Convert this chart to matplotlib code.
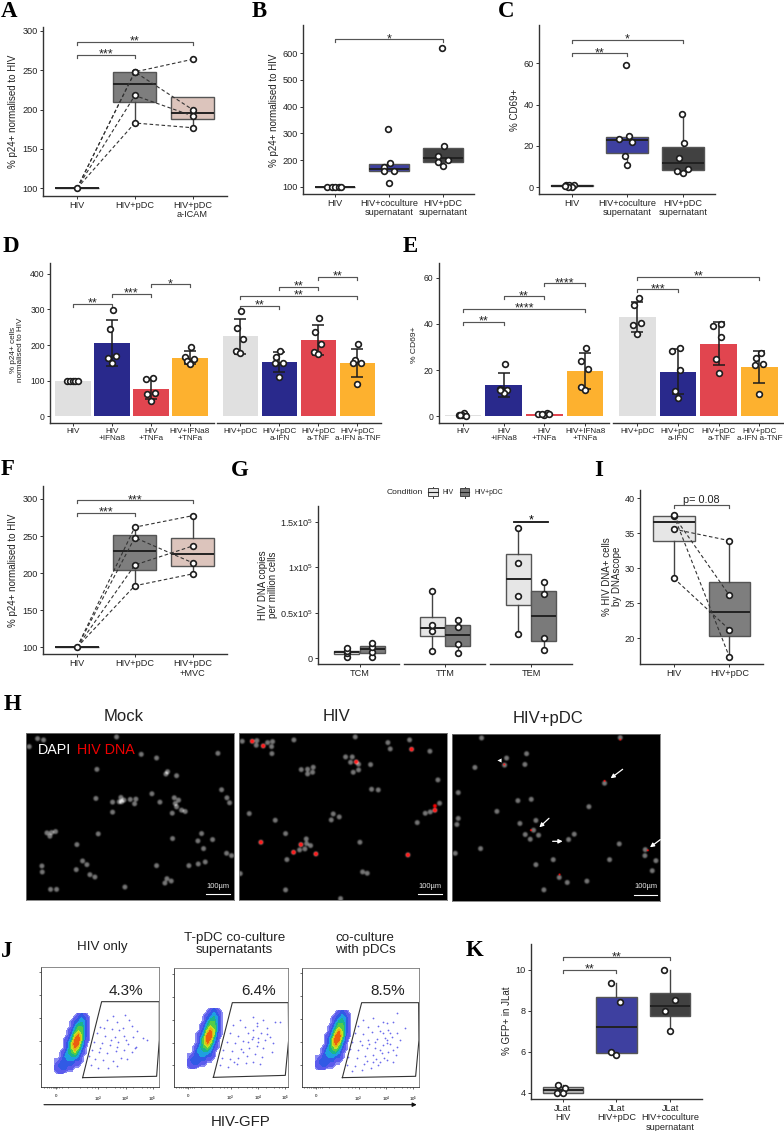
import numpy as np
import matplotlib
matplotlib.use("Agg")
import matplotlib.pyplot as plt
from matplotlib.colors import LinearSegmentedColormap
from matplotlib.patches import Rectangle

plt.rcParams['font.family'] = ['Liberation Sans', 'DejaVu Sans']
W, H = 784, 1131
fig = plt.figure(figsize=(W/100, H/100), dpi=100)

# colours
GREY = "#E0E0E0"; NAVY = "#29298C"; RED = "#E1454F"; ORANGE = "#FDB12F"
BOX_GREY = "#7E7E7E"; BOX_PINK = "#DCC4BC"; BOX_BLUE = "#3E40A0"; BOX_DARK = "#414141"
BAR_COLS = [GREY, NAVY, RED, ORANGE]
FLOW = LinearSegmentedColormap.from_list("flow", ["#9a9af5", "#3a3ae8", "#1ea0e0", "#18c060", "#c8e020", "#f0a010", "#e82010"])

# A
a_labels = ["HIV", "HIV+pDC", "HIV+pDC\na-ICAM"]
a_hiv = [100, 100, 100, 100]
a_pdc = [248, 248, 218, 183]
a_icam = [264, 200, 192, 177]

# B
b_labels = ["HIV", "HIV+coculture\nsupernatant", "HIV+pDC\nsupernatant"]
b_hiv = [100, 100, 100, 100, 100]
b_coc = [318, 190, 172, 160, 160, 115]
b_pdc = [621, 254, 216, 200, 192, 179]
b_jit = [[-.15, -.07, 0, .06, .11], [-.02, .02, -.09, -.1, .1, 0], [-.02, .03, -.09, .1, -.09, 0]]

# C
c_labels = ["HIV", "HIV+coculture\nsupernatant", "HIV+pDC\nsupernatant"]
c_hiv = [.9, .9, .9, .3, .3, .8]
c_coc = [59, 24.7, 23.4, 22.1, 15, 10.8]
c_pdc = [35.5, 21.3, 14.2, 8.9, 7.9, 6.9]
c_jit = [[-.1, -.04, .05, 0, -.06, -.12], [-.02, .04, -.15, .08, -.04, 0], [-.02, .02, -.07, .1, -.1, 0]]

# D
d_labels1 = ["HIV", "HIV\n+IFNa8", "HIV\n+TNFa", "HIV+IFNa8\n+TNFa"]
d_labels2 = ["HIV+pDC", "HIV+pDC\na-IFN", "HIV+pDC\na-TNF", "HIV+pDC\na-IFN a-TNF"]
d_f1 = [[100, 100, 100, 100, 100], [298, 246, 164, 169, 150], [104, 106.5, 63, 64, 43], [193, 166, 162, 156, 146]]
d_f2 = [[295, 248, 218, 182, 178], [184, 165, 150, 150, 109], [276, 236, 204, 180, 175], [202, 159, 149, 149, 91]]
d_j1 = [[-.15, -.07, 0, .05, .12], [.02, -.06, -.09, .09, 0], [-.14, .05, -.11, .1, 0], [.03, -.14, .09, -.08, 0]]
d_j2 = [[.03, -.09, .06, -.1, 0], [.02, -.08, -.1, .1, 0], [.03, -.08, .07, -.1, 0], [.03, -.07, -.11, .1, 0]]

# E
e_f1 = [[.4, 1.3, .4, .3, .6], [22.6, 11.7, 11.5, 10, 11.4], [.9, 1.3, .4, 1, 1], [29.4, 24.1, 20.3, 12.5, 11.4]]
e_f2 = [[51.4, 48, 40.4, 39.7, 35.6], [29.7, 28.1, 20, 10.8, 7.9], [39, 40.1, 34.5, 25, 18.8], [27.3, 25.1, 22.2, 22.6, 9.5]]
e_j1 = [[-.11, .02, -.03, .08, -.07], [.03, -.08, .08, 0, -.1], [-.15, .06, -.01, .11, -.06], [.03, -.11, .07, -.1, 0]]
e_j2 = [[.03, -.08, .1, -.1, 0], [.06, -.14, .06, -.07, 0], [-.15, .05, .06, -.06, 0], [.03, -.08, -.1, .1, 0]]

# F
f_labels = ["HIV", "HIV+pDC", "HIV+pDC\n+MVC"]
f_hiv = [100, 100, 100, 100]
f_pdc = [262, 248, 211, 183]
f_mvc = [277.5, 214, 236.6, 199]

# G
g_groups = ["TCM", "TTM", "TEM"]
g_hiv = [[1460, 5600, 7500, 10800], [8415, 30366, 36220, 73900], [26700, 68780, 105000, 143050]]
g_pdc = [[1830, 7317, 12440, 16830], [5850, 16100, 34390, 41700], [8780, 22300, 70600, 83780]]
g_ticks = [0, 50000, 100000, 150000]
g_ticklabels = ["0", r"$\mathregular{0.5x10^5}$", r"$\mathregular{1x10^5}$", r"$\mathregular{1.5x10^5}$"]

# I
i_labels = ["HIV", "HIV+pDC"]
i_hiv = [35.6, 37.5, 37.6, 28.6]
i_pdc = [33.95, 26.14, 17.33, 21.24]

# K
k_labels = ["JLat\nHIV", "JLat\nHIV+pDC", "JLat\nHIV+coculture\nsupernatant"]
k_hiv = [4.39, 4.24, 4.0, 4.0]
k_pdc = [9.37, 8.41, 6.0, 5.82]
k_coc = [10, 8.5, 8, 7]
k_jit = [[-.08, .05, -.1, .01], [-.1, .06, -.1, 0], [-.11, .09, -.09, 0]]

# H: nuclei
h_mock = [(88,170),(113,146),(131,150),(350,141),(424,193),(470,204),(654,190),(291,238),(503,245),(498,252),(530,257),
          (665,299),(681,323),(689,338),(288,325),(338,336),(358,335),(363,322),(365,335),(372,330),(391,328),(408,327),
          (404,341),(456,311),(480,336),(523,323),(536,330),(526,340),(530,350),(545,360),(556,364),(517,369),(338,366),
          (141,428),(155,427),(167,424),(150,438),(295,431),(518,445),(605,430),(594,452),(638,448),(611,475),(231,463),
          (680,489),(695,496),(248,512),(261,523),(126,527),(127,545),(229,538),(270,553),(285,560),(470,526),(567,526),
          (595,521),(616,515),(501,565),(514,572),(495,578),(375,590),(152,597),(170,597)]
h_hiv = [(36,154),(80,152),(78,166),(112,158),(127,155),(124,170),(125,191),(191,150),(375,141),(473,158),(480,177),
         (538,150),(599,184),(346,201),(366,201),(361,217),(385,223),(369,247),(385,240),(421,224),(213,239),(232,238),
         (249,232),(247,247),(232,252),(424,298),(444,300),(623,270),(628,340),(57,371),(135,391),(309,372),(303,390),
         (327,381),(600,366),(585,370),(561,398),(166,431),(228,447),(208,480),(224,477),(229,461),(241,467),(389,457),
         (170,509),(397,546),(411,550),(30,551),(166,600),(331,626),(66,154),(99,168),(378,216),(544,178),(614,361),
         (92,457),(212,464),(190,487),(257,492),(533,495)]
h_hiv_red = [(66,154),(99,168),(378,216),(544,178),(614,348),(614,361),(92,457),(212,464),(190,487),(257,492),(533,495)]
h_pdc = [(755,147),(1171,146),(890,194),(830,207),(824,228),(885,226),(735,235),(1124,282),(685,310),(864,334),(904,330),
         (1077,352),(801,366),(685,387),(681,405),(918,393),(870,402),(911,422),(886,435),(926,437),(901,449),(1033,434),
         (1016,450),(752,477),(1168,463),(676,491),(1246,480),(1245,498),(1278,513),(1267,543),(970,510),(1139,510),
         (918,525),(988,563),(1012,578),(1071,574),(942,600)]
h_pdc_red = [(1124,275),(903,422),(1254,482),(823,226),(989,554),(1171,152)]

# J: population density over the FITC/SSC plane, read by eye, and the sparse events in the gate
j_density = np.array([
    [0,0,0,0,0,0,0,1,2,1,0,0],
    [0,0,0,0,0,0,1,2,3,2,1,0],
    [0,0,0,0,0,1,2,3,4,3,1,0],
    [0,0,0,0,0,1,3,5,5,3,1,0],
    [0,0,0,0,1,2,4,6,6,3,1,0],
    [0,0,0,0,1,3,6,8,6,3,1,0],
    [0,0,0,1,2,4,8,9,6,2,1,0],
    [0,0,0,1,3,6,9,8,4,2,0,0],
    [0,0,0,1,3,6,8,6,3,1,0,0],
    [0,0,1,2,4,5,6,4,2,1,0,0],
    [0,0,1,3,4,4,4,3,1,0,0,0],
    [1,1,2,3,3,3,2,2,1,0,0,0],
    [1,2,3,3,2,2,1,1,0,0,0,0],
    [1,2,2,2,1,1,0,0,0,0,0,0],
    [0,1,1,0,0,0,0,0,0,0,0,0]], dtype=float)
j_cols = np.arange(165, 276, 10)
j_rows = np.array([325, 338, 351, 364, 377, 390, 403, 416, 429, 442, 455, 468, 481, 494, 505])
j_dots1 = [(340,332),(375,330),(320,345),(352,350),(388,345),(300,365),(335,372),(368,368),(395,362),(410,378),
           (290,385),(315,392),(345,395),(372,392),(398,395),(428,398),(282,410),(305,415),(330,420),(355,412),(385,418),
           (408,425),(440,405),(275,435),(298,440),(322,445),(348,438),(372,436),(395,440),(285,462),(310,465),(338,468),
           (362,458),(382,462),(272,480),(295,488),(325,490),(350,482),(405,430),(358,375),(312,370),(333,405),(378,405),
           (268,452),(300,428),(352,425)]
j_dots2 = [(720,345),(760,335),(790,345),(700,360),(735,365),(770,362),(800,370),(825,352),(690,385),(715,392),(745,385),
           (760,375),(782,385),(810,395),(680,410),(705,415),(730,408),(755,402),(775,398),(795,405),(820,415),(668,435),
           (695,438),(722,432),(748,428),(772,422),(790,428),(815,440),(665,458),(690,462),(715,458),(740,452),(765,448),
           (785,455),(660,480),(685,485),(712,478),(738,475),(760,470),(780,478),(770,355),(745,410),(800,388),(760,395),
           (775,412),(730,440),(702,470),(840,350)]
j_dots3 = [(1090,345),(1120,340),(1150,350),(1190,325),(1075,362),(1105,365),(1135,362),(1160,355),(1180,350),(1215,370),
           (1065,385),(1090,388),(1115,382),(1140,378),(1165,375),(1190,385),(1055,410),(1080,408),(1105,405),(1130,402),
           (1155,398),(1175,395),(1200,405),(1050,432),(1075,435),(1100,430),(1125,428),(1148,420),(1170,418),(1192,425),
           (1045,455),(1070,458),(1095,452),(1120,450),(1145,445),(1165,442),(1188,450),(1040,480),(1065,482),(1092,478),
           (1118,472),(1140,470),(1160,465),(1180,470),(1055,498),(1085,495),(1112,490),(1135,480),(1160,415),(1150,385),
           (1125,412),(1170,385),(1140,435),(1108,418),(1085,420),(1178,435),(1152,458),(1128,462),(1100,468),(1162,405)]
j_gates = [[(248,518),(305,290),(478,290),(478,405),(470,514),(248,518)],
           [(640,517),(697,293),(865,293),(866,405),(856,511),(640,517)],
           [(1027,518),(1085,293),(1256,293),(1257,405),(1247,514),(1027,518)]]


def make_ax(l, t, r, b, xfirst, xstep, ypix, yvals):
    # axes placed in reference pixels; x scale from tick spacing, y scale from two ticks
    ax = fig.add_axes([l/W, 1-b/H, (r-l)/W, (b-t)/H])
    ax.set_xlim(1+(l-xfirst)/xstep, 1+(r-xfirst)/xstep)
    per = (yvals[1]-yvals[0])/(ypix[1]-ypix[0])
    ax.set_ylim(yvals[0]+(b-ypix[0])*per, yvals[0]+(t-ypix[0])*per)
    ax.patch.set_alpha(0)
    for s in ["top", "right"]:
        ax.spines[s].set_visible(False)
    for s in ["left", "bottom"]:
        ax.spines[s].set_color("#333333"); ax.spines[s].set_linewidth(1.0)
    ax.tick_params(length=2.2, width=.7, color="#333333", pad=1.5, labelcolor="#222222")
    return ax


def xcats(ax, labels, fs, positions=None):
    pos = positions if positions is not None else np.arange(1, len(labels)+1)
    ax.set_xticks(pos)
    ax.set_xticklabels(labels, fontsize=fs, linespacing=1.05)


def boxes(ax, groups, colors, positions=None, width=.75, edge="#555555"):
    pos = positions if positions is not None else np.arange(1, len(groups)+1)
    bp = ax.boxplot(groups, positions=pos, widths=width, patch_artist=True, showfliers=False, showcaps=False,
                    manage_ticks=False, zorder=2,
                    boxprops=dict(linewidth=1.0, edgecolor=edge),
                    whiskerprops=dict(linewidth=1.0, color="#444444"),
                    medianprops=dict(linewidth=1.4, color="#222222"))
    for p, c in zip(bp["boxes"], colors):
        p.set_facecolor(c)


def points(ax, x, y, s=17):
    ax.scatter(x, y, s=s, facecolor="white", edgecolor="#1c1c1c", linewidth=1.2, zorder=6, clip_on=False)


def strip(ax, groups, jit=None, centers=None):
    for i, g in enumerate(groups):
        c = centers[i] if centers is not None else i+1
        off = np.array(jit[i]) if jit is not None else np.zeros(len(g))
        points(ax, c+off, g)


def paired(ax, groups):
    arr = np.array(groups)
    xs = np.arange(1, arr.shape[0]+1)
    for k in range(arr.shape[1]):
        ax.plot(xs, arr[:, k], ls=(0, (3.2, 2.2)), lw=.8, color="#333333", zorder=4)


def bracket(ax, x1, x2, y, label, fs=9, tip=3, off=-2):
    y0, y1 = ax.get_ylim()
    h = ax.get_window_extent().height*72/100  # points
    tip_d = tip*.72/h*(y1-y0)
    ax.plot([x1, x1, x2, x2], [y-tip_d, y, y, y-tip_d], color="#555555", lw=.85, zorder=3, clip_on=False)
    ax.annotate(label, (.5*(x1+x2), y), xytext=(0, off), textcoords="offset points", ha="center", va="baseline",
                fontsize=fs, color="#222222", annotation_clip=False)


def bars(ax, groups, jit):
    means = [np.mean(g) for g in groups]
    sds = [np.std(g, ddof=1) for g in groups]
    xs = np.arange(1, len(groups)+1)
    ax.bar(xs, means, width=.9, color=BAR_COLS, zorder=1)
    ax.errorbar(xs, means, yerr=sds, fmt="none", ecolor="#1c1c1c", elinewidth=1.1, capsize=4.4, capthick=1.1, zorder=5)
    strip(ax, groups, jit)


# ---- A
ax = make_ax(42.7, 27, 226.7, 195.7, 77, 57.8, (188.3, 31), (100, 300))
boxes(ax, [a_hiv, a_pdc, a_icam], ["#CCCCCC", BOX_GREY, BOX_PINK])
paired(ax, [a_hiv, a_pdc, a_icam])
strip(ax, [a_hiv[:1], a_pdc, a_icam])
xcats(ax, a_labels, 6.6); ax.set_yticks(range(100, 301, 50)); ax.tick_params(axis="y", labelsize=6.6)
bracket(ax, 1, 2, 270, "***"); bracket(ax, 1, 3, 286, "**")

# ---- B
ax = make_ax(303.3, 25, 474.3, 194, 335.3, 53.7, (186.7, 53.3), (100, 600))
boxes(ax, [b_hiv, b_coc, b_pdc], ["#CCCCCC", BOX_BLUE, BOX_DARK])
strip(ax, [b_hiv, b_coc, b_pdc], b_jit)
xcats(ax, b_labels, 6.6); ax.set_yticks(range(100, 601, 100)); ax.tick_params(axis="y", labelsize=6.6)
bracket(ax, 1, 3, 652, "*")

# ---- C
ax = make_ax(539, 25, 715.3, 194, 571.7, 55.5, (187.3, 63.3), (0, 60))
boxes(ax, [c_hiv, c_coc, c_pdc], ["#CCCCCC", BOX_BLUE, BOX_DARK])
strip(ax, [c_hiv, c_coc, c_pdc], c_jit)
xcats(ax, c_labels, 6.6); ax.set_yticks(range(0, 61, 20)); ax.tick_params(axis="y", labelsize=6.6)
bracket(ax, 1, 2, 64.8, "**"); bracket(ax, 1, 3, 71.3, "*")

# ---- D
ax = make_ax(50, 262.7, 214, 423, 73, 39, (416.3, 273.7), (0, 400))
bars(ax, d_f1, d_j1)
xcats(ax, d_labels1, 5.9); ax.set_yticks(range(0, 401, 100)); ax.tick_params(axis="y", labelsize=6.2)
bracket(ax, 1, 2, 315, "**"); bracket(ax, 2, 3, 343, "***"); bracket(ax, 3, 4, 370, "*")
ax = make_ax(217.3, 262.7, 381, 423, 240.3, 39, (416.3, 273.7), (0, 400))
bars(ax, d_f2, d_j2)
xcats(ax, d_labels2, 5.9); ax.spines["left"].set_visible(False); ax.set_yticks([])
bracket(ax, 1, 2, 309, "**"); bracket(ax, 1, 4, 337, "**"); bracket(ax, 2, 3, 364, "**"); bracket(ax, 3, 4, 392, "**")

# ---- E
ax = make_ax(438.7, 262.7, 609, 423, 463, 40.7, (416.3, 277.7), (0, 60))
bars(ax, e_f1, e_j1)
xcats(ax, d_labels1, 5.9); ax.set_yticks(range(0, 61, 20)); ax.tick_params(axis="y", labelsize=6.2)
bracket(ax, 1, 2, 41, "**"); bracket(ax, 1, 4, 46.5, "****"); bracket(ax, 2, 3, 52, "**"); bracket(ax, 3, 4, 57.6, "****")
ax = make_ax(613, 262.7, 784, 423, 637.3, 40.7, (416.3, 277.7), (0, 60))
bars(ax, e_f2, e_j2)
xcats(ax, d_labels2, 5.9); ax.spines["left"].set_visible(False); ax.set_yticks([])
bracket(ax, 1, 2, 55, "***"); bracket(ax, 1, 4, 60.5, "**")

# ---- F
ax = make_ax(42.7, 485.7, 226.7, 654.3, 77, 57.8, (647.3, 499), (100, 300))
boxes(ax, [f_hiv, f_pdc, f_mvc], ["#CCCCCC", BOX_GREY, BOX_PINK])
paired(ax, [f_hiv, f_pdc, f_mvc])
strip(ax, [f_hiv[:1], f_pdc, f_mvc])
xcats(ax, f_labels, 6.6); ax.set_yticks(range(100, 301, 50)); ax.tick_params(axis="y", labelsize=6.6)
bracket(ax, 1, 2, 281, "***"); bracket(ax, 1, 3, 298, "***")

# ---- G
g_boxes = [(318, 399, 359.5), (404.3, 485.3, 445), (490, 572, 531)]
for i, (l, r, c) in enumerate(g_boxes):
    ax = make_ax(l, 506, r, 664, c, 67.5, (658.3, 521.7), (0, 150000))
    boxes(ax, [g_hiv[i], g_pdc[i]], ["#E6E6E6", "#7A7A7A"], positions=[.81, 1.19], width=.375)
    strip(ax, [g_hiv[i], g_pdc[i]], centers=[.81, 1.19])
    xcats(ax, [g_groups[i]], 6.6, positions=[1])
    if i == 0:
        ax.set_yticks(g_ticks); ax.set_yticklabels(g_ticklabels, fontsize=6.6)
    else:
        ax.spines["left"].set_visible(False); ax.set_yticks([])
    if i == 2:
        ax.plot([.75, 1.25], [149600, 149600], color="#111111", lw=1.3, zorder=3)
        ax.annotate("*", (1, 149600), xytext=(0, -1), textcoords="offset points", ha="center", va="baseline", fontsize=9)

# ---- I
ax = make_ax(640.3, 490, 762.7, 664.3, 673.7, 55.7, (638.3, 498.3), (20, 40))
boxes(ax, [i_hiv, i_pdc], ["#E6E6E6", BOX_GREY])
paired(ax, [i_hiv, i_pdc])
strip(ax, [i_hiv, i_pdc])
xcats(ax, i_labels, 6.6); ax.set_yticks(range(20, 41, 5)); ax.tick_params(axis="y", labelsize=6.6)
bracket(ax, 1, 2, 39.1, "p= 0.08", fs=7.8, off=1)

# ---- K
ax = make_ax(531, 944.3, 701.7, 1099, 562.7, 53.7, (1092.7, 969.7), (4, 10))
boxes(ax, [k_hiv, k_pdc, k_coc], ["#B5B5B5", BOX_BLUE, BOX_DARK])
strip(ax, [k_hiv, k_pdc, k_coc], k_jit)
xcats(ax, k_labels, 6.6); ax.set_yticks(range(4, 11, 2)); ax.tick_params(axis="y", labelsize=6.6)
bracket(ax, 1, 2, 10, "**"); bracket(ax, 1, 3, 10.6, "**")


# ---- H micrographs
def micrograph(box, xr, yr, cells, reds, red_r):
    l, t, r, b = box
    ax = fig.add_axes([l/W, 1-b/H, (r-l)/W, (b-t)/H])
    xx, yy = np.meshgrid(np.arange(xr[0], xr[1], 1.5), np.arange(yr[0], yr[1], 1.5))
    img = np.zeros(xx.shape+(3,))
    for cx, cy in cells:
        d = ((xx-cx)**2+(yy-cy)**2)/7.8**2
        img += .47*np.exp(-d**2)[..., None]
    for cx, cy in reds:
        d = np.exp(-(((xx-cx)**2+(yy-cy)**2)/red_r**2)**2)
        img[..., 0] += d
        img[..., 1] *= 1-.8*d
        img[..., 2] *= 1-.8*d
    ax.imshow(np.clip(img, 0, 1), extent=(xr[0], xr[1], yr[1], yr[0]), interpolation="bilinear", aspect="auto")
    ax.set_xticks([]); ax.set_yticks([])
    for s in ax.spines.values():
        s.set_color("#777777"); s.set_linewidth(.6)
    return ax


h_boxes = [(26.3, 733.3, 234.3, 899.7), (239, 733.3, 447, 900.3), (452.3, 734.3, 660.3, 901.3)]
micrograph(h_boxes[0], (79, 703), (130, 629), h_mock, [], 1)
micrograph(h_boxes[1], (27, 651), (130, 631), h_hiv, h_hiv_red, 6)
ax_h3 = micrograph(h_boxes[2], (667, 1291), (133, 634), h_pdc, h_pdc_red, 3)
for tail, head in [((1178, 238), (1142, 265)), ((957, 385), (928, 412)), ((968, 454), (998, 454)), ((1291, 449), (1260, 472))]:
    ax_h3.annotate("", xy=head, xytext=tail, annotation_clip=False,
                   arrowprops=dict(arrowstyle="-|>", color="white", lw=.9, mutation_scale=6, shrinkA=0, shrinkB=0))
ax_h3.scatter([806], [210], marker="<", s=9, color="white", linewidth=0, zorder=4)


# ---- J flow plots
j_boxes = [(41.3, 966.7, 159.3, 1087.3), (173.7, 968.3, 288.3, 1086.7), (301.7, 967.7, 419.3, 1087.3)]
j_xr = [(124, 478), (521, 865), (905, 1258)]
j_yr = [(185, 547), (190, 545), (188, 547)]
j_shift = [(0, 0), (397, -15), (782, -10)]
j_alldots = [j_dots1, j_dots2, j_dots3]
for i, (l, t, r, b) in enumerate(j_boxes):
    ax = fig.add_axes([l/W, 1-b/H, (r-l)/W, (b-t)/H])
    ax.set_xlim(*j_xr[i]); ax.set_ylim(j_yr[i][1], j_yr[i][0])
    dx, dy = j_shift[i]
    ax.contourf(j_cols+dx, j_rows+dy, j_density, levels=[.5, 1, 2, 3, 4, 5, 6, 7, 8, 9.5], cmap=FLOW)
    d = np.array(j_alldots[i])
    ax.scatter(d[:, 0], d[:, 1], s=1.6, color="#3a3ae6", linewidth=0, alpha=.75)
    g = np.array(j_gates[i])
    ax.plot(g[:, 0], g[:, 1], color="#333333", lw=.8)
    x0 = j_xr[i][0]-124
    ax.set_xticks([168+x0, 295+x0, 377+x0, 458+x0])
    ax.set_xticklabels(["0", r"$\mathregular{10^3}$", r"$\mathregular{10^4}$", r"$\mathregular{10^5}$"], fontsize=3.2)
    ax.set_xticks(np.array([132, 140, 147, 153, 158, 162, 165, 172, 178, 185, 205, 240, 262, 275, 285, 318, 345, 360, 370, 400, 425, 440, 450])+x0, minor=True)
    y0 = j_yr[i][0]-185
    ax.set_yticks(np.array([202, 270, 339, 408, 476])+y0)
    ax.set_yticklabels([])
    ax.tick_params(length=1.6, width=.5, pad=3.5, color="#333333")
    ax.tick_params(which="minor", length=1, width=.4)
    for s in ax.spines.values():
        s.set_color("#777777"); s.set_linewidth(.6)
    ax.spines["bottom"].set_color("#333333"); ax.spines["left"].set_color("#333333")

# ---- overlay in reference pixels: letters, axis titles, headers, legend
ov = fig.add_axes([0, 0, 1, 1], zorder=20)
ov.set_xlim(0, W); ov.set_ylim(H, 0); ov.axis("off"); ov.patch.set_alpha(0)

letters = ["A", "B", "C", "D", "E", "F", "G", "H", "I", "J", "K"]
letter_x = [1, 252, 498, 3, 403, 1, 231, 4, 594, 0.5, 466]
letter_y = [17, 17, 17, 252, 252, 475, 476, 710, 476, 957, 956]
for s, x, y in zip(letters, letter_x, letter_y):
    ov.text(x, y, s, family="Liberation Serif", fontweight="bold", fontsize=16.5, ha="left", va="baseline", color="black")

ylabels = ["% p24+ normalised to HIV", "% p24+ normalised to HIV", "% CD69+", "% p24+ cells\nnormalised to HIV", "% CD69+",
           "% p24+ normalised to HIV", "HIV DNA copies\nper million cells", "% HIV DNA+ cells\nby DNAscope", "% GFP+ in JLat"]
ylabel_x = [13.3, 274, 515, 16.7, 415, 13.3, 268, 612, 506.7]
ylabel_y = [111, 110, 110, 350, 345, 570, 585, 576.7, 1021]
ylabel_fs = [7, 7, 7, 5.9, 6.1, 7, 7, 7, 7]
for s, x, y, fs in zip(ylabels, ylabel_x, ylabel_y, ylabel_fs):
    ov.text(x, y, s, rotation=90, ha="center", va="center", multialignment="center", fontsize=fs, linespacing=1.05, color="#222222")

# legend of G
ov.text(386.7, 492, "Condition", fontsize=6.1, va="center", color="#222222")
for kx, col, tx, s in [(428.3, "#E6E6E6", 442.7, "HIV"), (460, "#7A7A7A", 475, "HIV+pDC")]:
    ov.plot([kx+4.7, kx+4.7], [486.5, 497.5], color="#444444", lw=.7)
    ov.add_patch(Rectangle((kx, 488.3), 9.4, 7.4, facecolor=col, edgecolor="#444444", lw=.7, zorder=3))
    ov.plot([kx, kx+9.4], [492, 492], color="#222222", lw=.8, zorder=4)
    ov.text(tx, 492, s, fontsize=4.9, va="center", color="#222222")

# H headers and image annotation
for s, x, y in [("Mock", 124, 716.7), ("HIV", 336.7, 716.7), ("HIV+pDC", 548, 719)]:
    ov.text(x, y, s, fontsize=12, ha="center", va="center", color="#222222")
ov.text(37.5, 750, "DAPI", fontsize=10.3, color="white", va="center")
ov.text(77.5, 750, "HIV DNA", fontsize=10.3, color="#F00000", va="center")
for x1, x2, y, tx in [(206.3, 230, 896.3, 218), (418, 442, 896, 430), (634, 657.5, 897, 645.5)]:
    ov.plot([x1, x2], [y-2.5, y-2.5], color="white", lw=.8)
    ov.text(tx, y-10, "100µm", fontsize=5.4, color="#E8E8E8", ha="center", va="center")

# J headers
for s, x, y in [("HIV only", 102.3, 946.7), ("T-pDC co-culture\nsupernatants", 234.3, 944), ("co-culture\nwith pDCs", 365, 944)]:
    ov.text(x, y, s, fontsize=9.6, ha="center", va="center", multialignment="center", color="#222222", linespacing=1.1)
for s, x in [("4.3%", 126), ("6.4%", 259), ("8.5%", 388)]:
    ov.text(x, 990.7, s, fontsize=11, ha="center", va="center", color="#222222")
ov.annotate("", xy=(416.7, 1104.7), xytext=(44, 1104.7),
            arrowprops=dict(arrowstyle="-|>", color="#111111", lw=.8, mutation_scale=6, shrinkA=0, shrinkB=0))
ov.text(240.7, 1122, "HIV-GFP", fontsize=10.8, ha="center", va="center", color="#222222")

plt.savefig("out.png", dpi=100)
plt.close("all")
